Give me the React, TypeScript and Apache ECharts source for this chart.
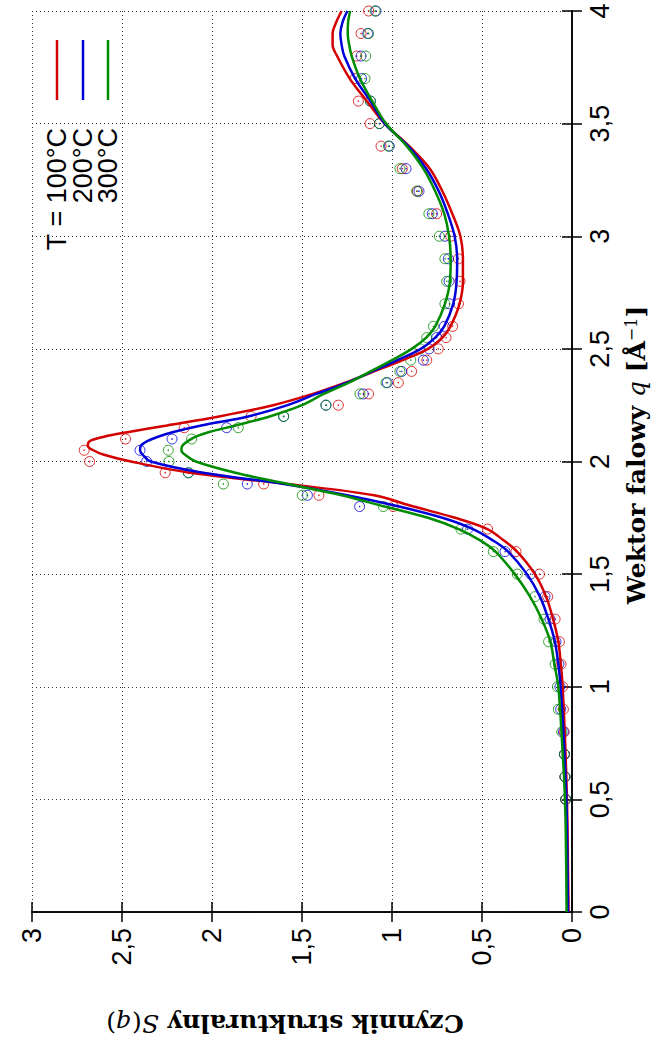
import React, { useEffect, useRef } from 'react';
import * as echarts from 'echarts';

// ---- data (q in 1/Å, S(q)) ----
const curveQ = [0, 0.25, 0.5, 0.75, 1.0, 1.1, 1.2, 1.3, 1.4, 1.5, 1.6, 1.65, 1.7, 1.75, 1.8, 1.85, 1.9, 1.95, 2.0, 2.03, 2.05, 2.07, 2.09, 2.11, 2.13, 2.16, 2.2, 2.25, 2.3, 2.35, 2.4, 2.45, 2.5, 2.55, 2.6, 2.7, 2.8, 2.9, 3.0, 3.1, 3.2, 3.3, 3.4, 3.5, 3.6, 3.7, 3.8, 3.85, 3.9, 3.95, 4.0];
const curve100 = [0.019, 0.023, 0.028, 0.038, 0.052, 0.062, 0.076, 0.105, 0.144, 0.206, 0.305, 0.38, 0.47, 0.65, 0.88, 1.1, 1.58, 2.12, 2.45, 2.6, 2.66, 2.69, 2.68, 2.6, 2.47, 2.25, 1.96, 1.66, 1.44, 1.26, 1.1, 0.94, 0.8, 0.72, 0.675, 0.625, 0.606, 0.606, 0.62, 0.665, 0.72, 0.79, 0.905, 1.04, 1.14, 1.235, 1.305, 1.33, 1.33, 1.31, 1.28];
const curve200 = [0.022, 0.026, 0.031, 0.045, 0.063, 0.076, 0.095, 0.131, 0.178, 0.25, 0.355, 0.44, 0.55, 0.72, 0.96, 1.25, 1.6, 2.05, 2.34, 2.385, 2.4, 2.395, 2.36, 2.3, 2.22, 2.06, 1.8, 1.58, 1.42, 1.25, 1.11, 0.97, 0.84, 0.76, 0.71, 0.66, 0.641, 0.638, 0.652, 0.69, 0.74, 0.81, 0.91, 1.04, 1.12, 1.205, 1.265, 1.28, 1.287, 1.275, 1.248];
const curve300 = [0.03, 0.033, 0.039, 0.055, 0.076, 0.098, 0.12, 0.168, 0.233, 0.318, 0.425, 0.51, 0.63, 0.8, 1.04, 1.28, 1.58, 1.87, 2.09, 2.15, 2.17, 2.165, 2.135, 2.09, 2.02, 1.87, 1.68, 1.5, 1.38, 1.24, 1.12, 1.0, 0.89, 0.81, 0.76, 0.706, 0.678, 0.674, 0.683, 0.71, 0.76, 0.826, 0.918, 1.033, 1.11, 1.178, 1.224, 1.238, 1.246, 1.244, 1.232];

const pointQ = [0.5, 0.6, 0.7, 0.8, 0.9, 1.0, 1.1, 1.2, 1.3, 1.4, 1.5, 1.6, 1.7, 1.8, 1.85, 1.9, 1.95, 2.0, 2.05, 2.1, 2.15, 2.2, 2.25, 2.3, 2.35, 2.4, 2.45, 2.5, 2.55, 2.6, 2.7, 2.8, 2.9, 3.0, 3.1, 3.2, 3.3, 3.4, 3.5, 3.6, 3.7, 3.8, 3.9, 4.0];
const points100 = [0.035, 0.039, 0.042, 0.043, 0.048, 0.052, 0.061, 0.07, 0.094, 0.135, 0.181, 0.311, 0.469, 0.993, 1.406, 1.713, 2.26, 2.68, 2.71, 2.48, 2.154, 1.783, 1.298, 1.13, 0.965, 0.891, 0.807, 0.743, 0.7, 0.663, 0.631, 0.622, 0.631, 0.674, 0.752, 0.859, 0.943, 1.061, 1.122, 1.187, 1.206, 1.196, 1.172, 1.13];
const points200 = [0.035, 0.039, 0.042, 0.048, 0.063, 0.067, 0.073, 0.089, 0.122, 0.15, 0.23, 0.372, 0.58, 1.18, 1.47, 1.804, 2.131, 2.363, 2.4, 2.222, 1.919, 1.602, 1.367, 1.16, 1.026, 0.946, 0.826, 0.794, 0.752, 0.709, 0.681, 0.683, 0.687, 0.706, 0.776, 0.85, 0.922, 1.015, 1.07, 1.12, 1.169, 1.172, 1.135, 1.089];
const points300 = [0.035, 0.039, 0.042, 0.057, 0.076, 0.081, 0.094, 0.13, 0.156, 0.206, 0.304, 0.437, 0.617, 1.048, 1.498, 1.937, 2.131, 2.239, 2.243, 2.113, 1.854, 1.602, 1.367, 1.178, 1.033, 0.956, 0.896, 0.844, 0.807, 0.77, 0.706, 0.696, 0.706, 0.737, 0.795, 0.863, 0.956, 1.02, 1.07, 1.12, 1.15, 1.146, 1.13, 1.094];

const legendLabels = ['T = 100°C', '200°C', '300°C'];
const seriesColors = ['#d40000', '#0000d8', '#008c00'];

const fmt = (v: number) => String(v).replace('.', ',');
const pairs = (qs: number[], ss: number[]) => qs.map((q, i) => [ss[i], q]);

export default function App() {
  const ref = useRef<HTMLDivElement>(null);
  useEffect(() => {
    if (!ref.current) return;
    const chart = echarts.init(ref.current, null, { renderer: 'svg' });
    const curves = [curve100, curve200, curve300];
    const pts = [points100, points200, points300];
    const series: any[] = [];
    pts.forEach((p, i) => {
      series.push({
        type: 'scatter',
        data: pairs(pointQ, p),
        symbol: 'circle',
        symbolSize: 10,
        itemStyle: { color: 'rgba(0,0,0,0)', borderColor: seriesColors[i], borderWidth: 1 },
        silent: true,
      });
      series.push({
        type: 'scatter',
        data: pairs(pointQ, p),
        symbol: 'circle',
        symbolSize: 1.6,
        itemStyle: { color: seriesColors[i] },
        silent: true,
      });
    });
    curves.forEach((c, i) => {
      series.push({
        type: 'line',
        data: pairs(curveQ, c),
        showSymbol: false,
        smooth: 0.35,
        lineStyle: { color: seriesColors[i], width: 2.5 },
        silent: true,
      });
    });

    const labelFont = { fontFamily: 'Liberation Sans', fontSize: 27, color: '#000' };
    const splitStyle = { show: true, lineStyle: { color: '#333', width: 1, type: [1, 3] } };
    const axisLine = { show: true, lineStyle: { color: '#000', width: 1.5 } };
    const tick = { show: true, inside: true, length: 10, lineStyle: { color: '#000', width: 1.5 } };

    const graphic: any[] = [];
    const legendX = [57, 83, 108];
    legendLabels.forEach((t, i) => {
      graphic.push({
        type: 'line',
        shape: { x1: legendX[i], y1: 40, x2: legendX[i], y2: 100 },
        style: { stroke: seriesColors[i], lineWidth: 2.5 },
      });
      graphic.push({
        type: 'text',
        x: legendX[i],
        y: 128,
        rotation: Math.PI / 2,
        style: { text: t, fontFamily: 'Liberation Sans', fontSize: 27, fill: '#000', align: 'right', verticalAlign: 'middle' },
      });
    });
    graphic.push({
      type: 'text',
      x: 636,
      y: 455,
      rotation: Math.PI / 2,
      style: {
        text: '{b|Wektor falowy }{i|q}{b| [Å}{s|−1}{b|]}',
        align: 'center',
        verticalAlign: 'middle',
        rich: {
          b: { fontFamily: 'DejaVu Serif', fontWeight: 'bold', fontSize: 25, fill: '#000' },
          i: { fontFamily: 'DejaVu Serif', fontStyle: 'italic', fontSize: 25, fill: '#000' },
          s: { fontFamily: 'DejaVu Serif', fontSize: 16, fill: '#000', verticalAlign: 'top' },
        },
      },
    });
    graphic.push({
      type: 'text',
      x: 285,
      y: 1023,
      rotation: Math.PI,
      style: {
        text: '{b|Czynnik strukturalny }{i|S}{n|(}{i|q}{n|)}',
        align: 'center',
        verticalAlign: 'middle',
        rich: {
          b: { fontFamily: 'DejaVu Serif', fontWeight: 'bold', fontSize: 25, fill: '#000' },
          i: { fontFamily: 'DejaVu Serif', fontStyle: 'italic', fontSize: 25, fill: '#000' },
          n: { fontFamily: 'DejaVu Serif', fontSize: 25, fill: '#000' },
        },
      },
    });

    chart.setOption({
      animation: false,
      backgroundColor: '#fff',
      grid: { left: 32, right: 90, top: 11, bottom: 136, containLabel: false, outerBoundsMode: 'none' },
      xAxis: [
        {
          type: 'value', min: 0, max: 3, interval: 0.5, inverse: true, position: 'bottom',
          axisLine, axisTick: tick, splitLine: splitStyle,
          axisLabel: { ...labelFont, rotate: 90, margin: 16, formatter: fmt, showMinLabel: true, showMaxLabel: true },
        },
        {
          type: 'value', min: 0, max: 3, interval: 0.5, inverse: true, position: 'top',
          axisLine, axisTick: tick, splitLine: { show: false }, axisLabel: { show: false },
        },
      ],
      yAxis: [
        {
          type: 'value', min: 0, max: 4, interval: 0.5, position: 'right',
          axisLine, axisTick: tick, splitLine: splitStyle,
          axisLabel: { ...labelFont, rotate: 90, margin: 14, formatter: fmt, showMinLabel: true, showMaxLabel: true },
        },
        {
          type: 'value', min: 0, max: 4, interval: 0.5, position: 'left',
          axisLine, axisTick: tick, splitLine: { show: false }, axisLabel: { show: false },
        },
      ],
      series,
      graphic,
    });
    return () => chart.dispose();
  }, []);
  return <div ref={ref} style={{ position: 'absolute', left: 0, top: 0, width: 662, height: 1048 }} />;
}
